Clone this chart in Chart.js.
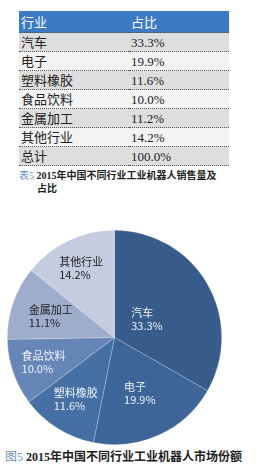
<!DOCTYPE html>
<html>
<head>
<meta charset="UTF-8">
<title>2015年中国不同行业工业机器人市场份额</title>
<script src="https://cdn.jsdelivr.net/npm/chart.js"></script>
<style>
  html, body { margin: 0; padding: 0; background: #fff; width: 259px; height: 468px; overflow: hidden; }
  body { position: relative; font-family: "Liberation Serif", "Noto Sans CJK SC", serif; color: #222; }
  table { position: absolute; left: 19px; top: 11px; width: 210px; border-collapse: collapse; font-size: 13px; }
  th { background: #3b7bc6; color: #fff; font-weight: normal; text-align: left; height: 21px; padding: 0 0 0 2px; font-size: 13px; border-bottom: 1px dotted #555; }
  td { height: 18px; padding: 0 0 0 2px; border-bottom: 1px dotted #555; line-height: 17px; }
  td.name { font-size: 13px; }
  tr.odd td { background: #dedede; }
  tr.even td { background: #f3f3f3; }
  .cap { position: absolute; font-weight: bold; font-size: 10px; line-height: 13px; color: #222; }
  .cap b { color: #6d8fbb; font-weight: normal; }
  #cap1 { left: 19px; top: 169px; width: 215px; }
  #cap1 .l2 { padding-left: 18px; }
  #cap2 { left: 5px; top: 451px; font-size: 12px; white-space: nowrap; }
  #pie { position: absolute; left: 7px; top: 230px; }
</style>
</head>
<body>
<table id="tbl"></table>
<div class="cap" id="cap1"><b>表5</b> 2015年中国不同行业工业机器人销售量及<br><span class="l2">占比</span></div>
<canvas id="pie" width="215" height="215"></canvas>
<div class="cap" id="cap2"><b>图5</b> 2015年中国不同行业工业机器人市场份额</div>
<script>
const tableHeader = ['行业', '占比'];
const tableRows = ['汽车', '电子', '塑料橡胶', '食品饮料', '金属加工', '其他行业', '总计'];
const tableShares = ['33.3%', '19.9%', '11.6%', '10.0%', '11.2%', '14.2%', '100.0%'];

const pieLabels = ['汽车', '电子', '塑料橡胶', '食品饮料', '金属加工', '其他行业'];
const pieValues = [33.3, 19.9, 11.6, 10.0, 11.1, 14.2];
const pieColors = ['#375b8b', '#3d6597', '#4670a4', '#6786b8', '#9eadcc', '#c5cce0'];

// table
const tbl = document.getElementById('tbl');
let html = '<tr><th style="width:108px">' + tableHeader[0] + '</th><th>' + tableHeader[1] + '</th></tr>';
tableRows.forEach((name, i) => {
  html += '<tr class="' + (i % 2 === 0 ? 'odd' : 'even') + '"><td class="name">' + name + '</td><td>' + tableShares[i] + '</td></tr>';
});
tbl.innerHTML = html;

// labels drawn inside slices
const labelDist = [0.35, 0.57, 0.68, 0.70, 0.63, 0.72];
const labelColor = ['#eef2f8', '#eef2f8', '#eef2f8', '#eef2f8', '#1e1e1e', '#1e1e1e'];
const sliceLabels = {
  id: 'sliceLabels',
  afterDatasetsDraw(chart) {
    const ctx = chart.ctx;
    const meta = chart.getDatasetMeta(0);
    ctx.save();
    ctx.font = '11px "Noto Sans CJK SC", sans-serif';
    ctx.textBaseline = 'middle';
    meta.data.forEach((arc, i) => {
      const mid = (arc.startAngle + arc.endAngle) / 2;
      const d = arc.outerRadius * labelDist[i];
      const x = arc.x + Math.cos(mid) * d;
      const y = arc.y + Math.sin(mid) * d;
      const l1 = pieLabels[i];
      const l2 = pieValues[i].toFixed(1) + '%';
      const w = Math.max(ctx.measureText(l1).width, ctx.measureText(l2).width);
      ctx.fillStyle = labelColor[i];
      ctx.textAlign = 'left';
      ctx.fillText(l1, x - w / 2, y - 6);
      ctx.fillText(l2, x - w / 2, y + 7);
    });
    ctx.restore();
  }
};

new Chart(document.getElementById('pie'), {
  type: 'pie',
  data: {
    labels: pieLabels,
    datasets: [{
      data: pieValues,
      backgroundColor: pieColors,
      borderColor: 'rgba(255,255,255,0.35)',
      borderWidth: 0.6
    }]
  },
  options: {
    responsive: false,
    animation: false,
    devicePixelRatio: 1,
    layout: { padding: 0 },
    plugins: { legend: { display: false }, tooltip: { enabled: false } }
  },
  plugins: [sliceLabels]
});
</script>
</body>
</html>
